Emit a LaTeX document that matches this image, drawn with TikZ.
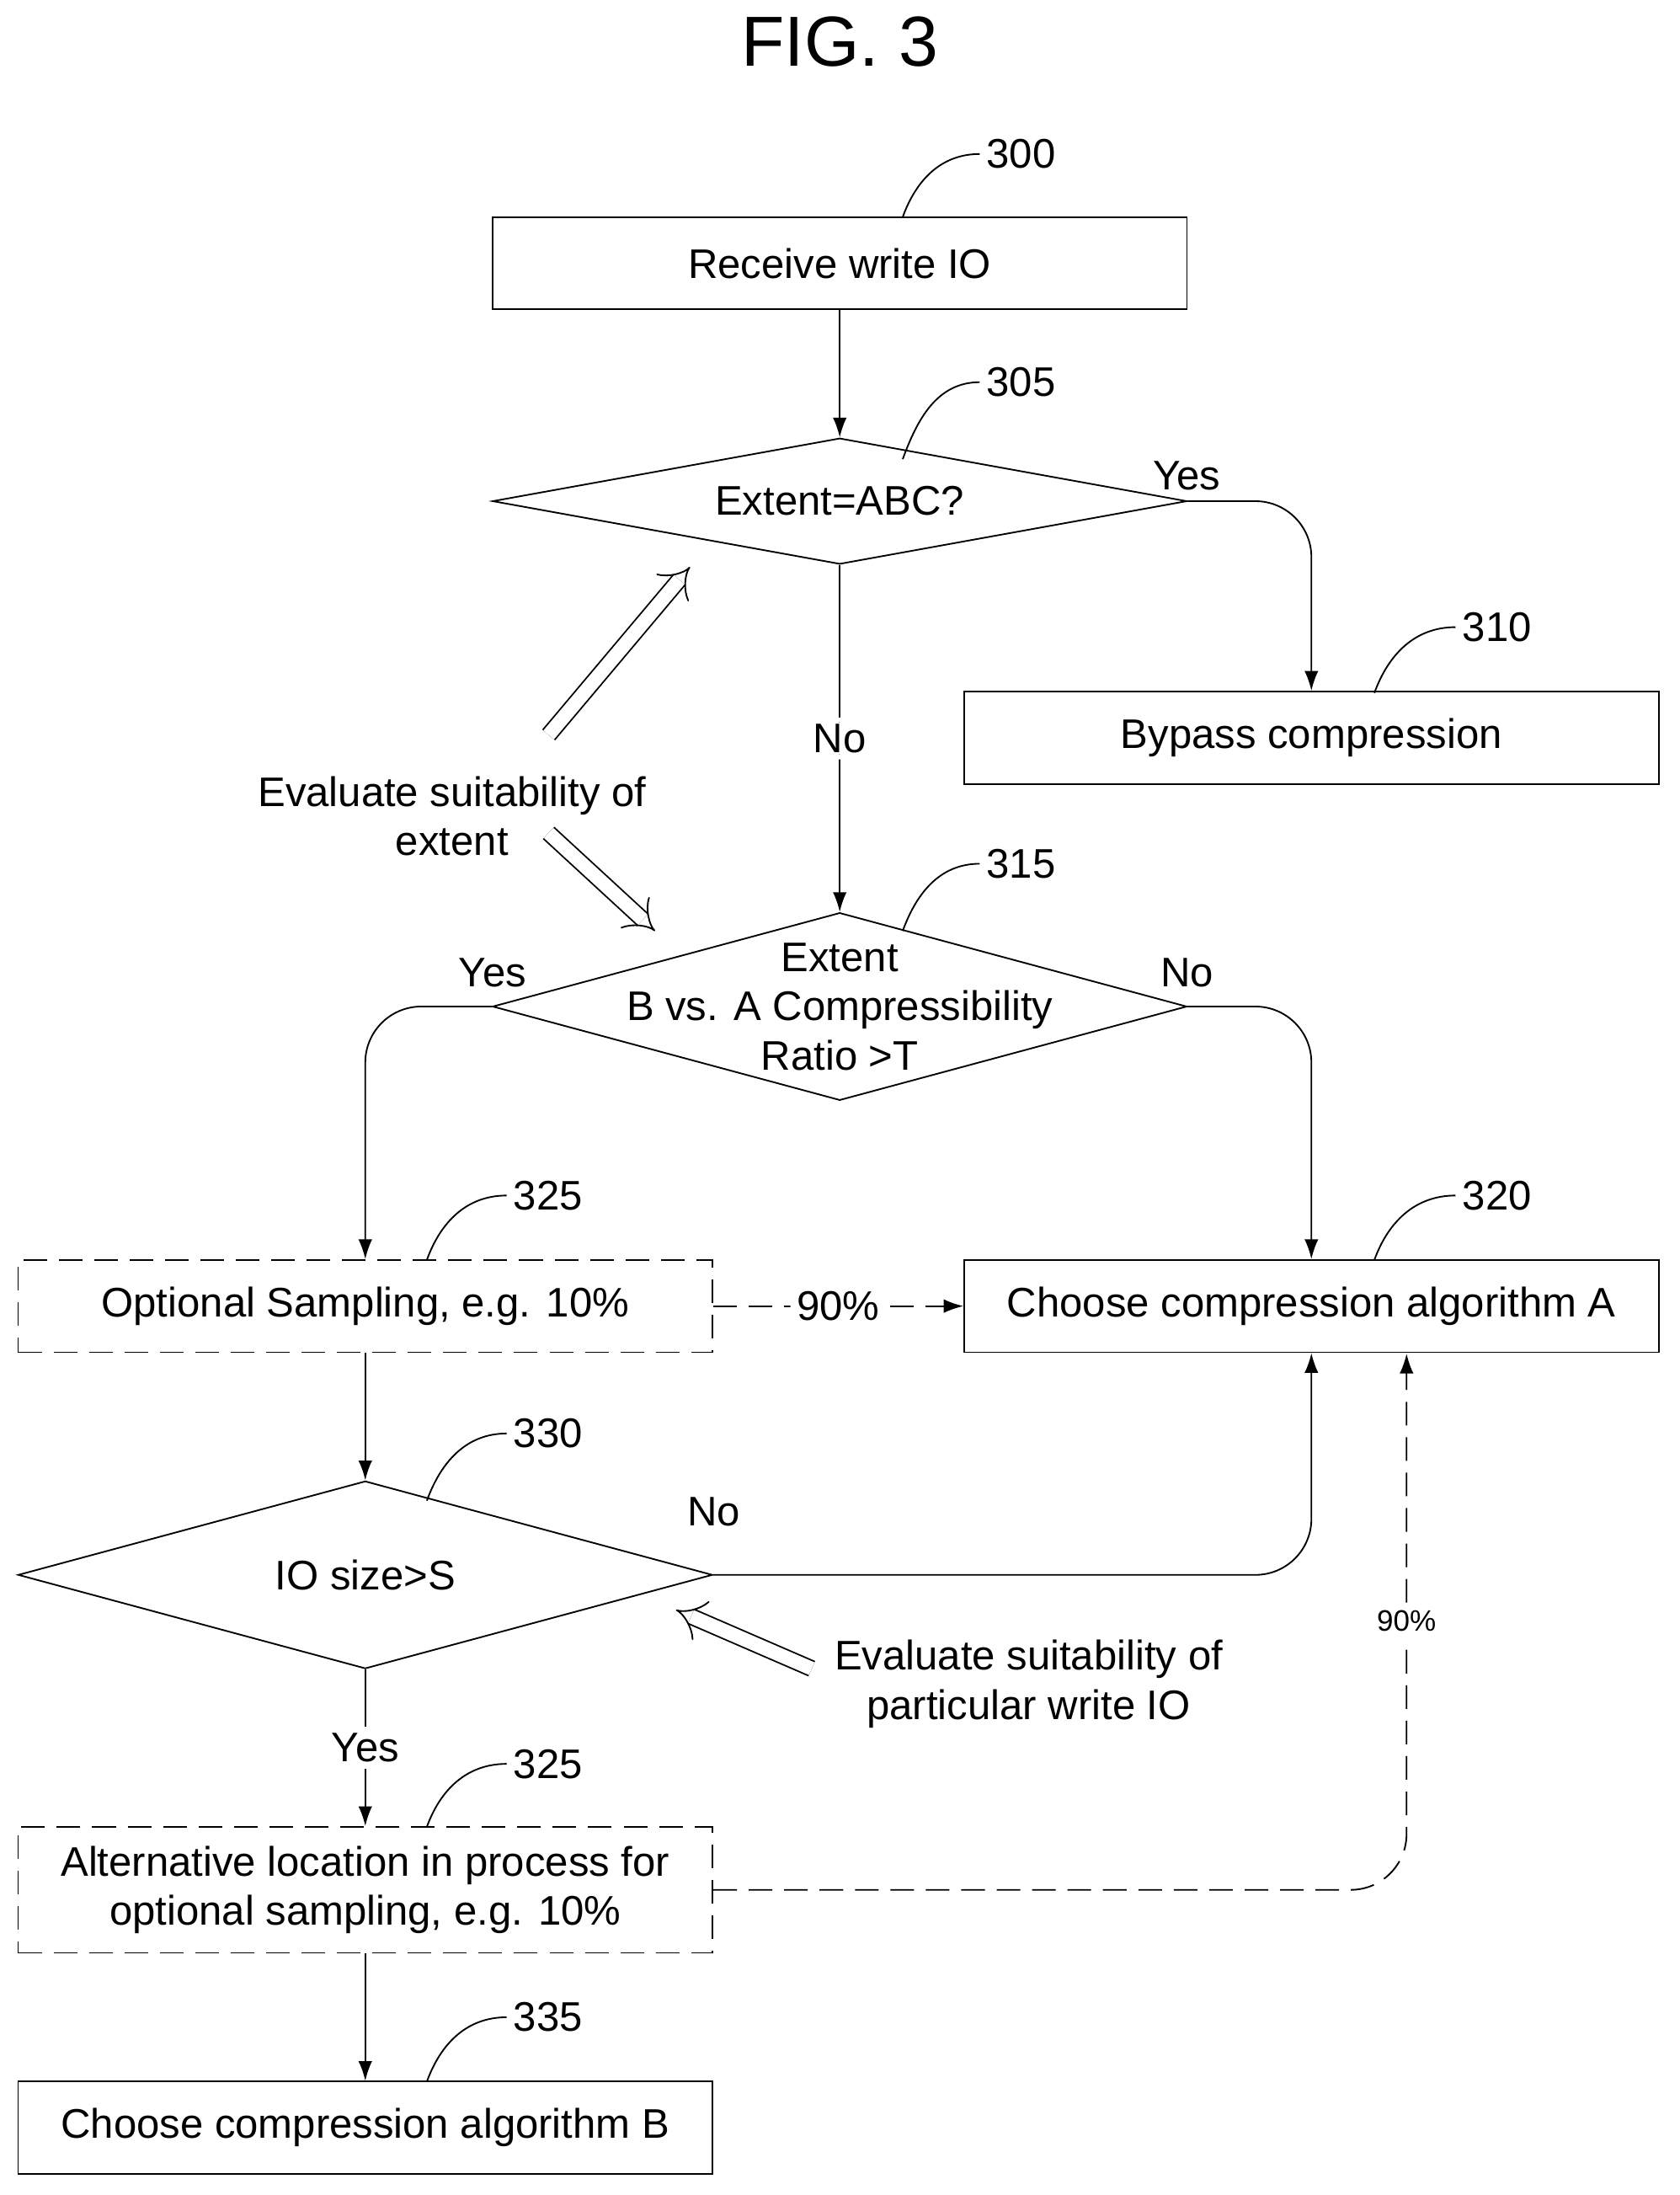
\documentclass[tikz,border=0pt]{standalone}
\usepackage{fontspec}
\setmainfont{Liberation Sans}
\usetikzlibrary{shapes.geometric,arrows.meta,positioning}
\tikzset{
  box/.style={draw,thick,rectangle,minimum width=12.4cm,minimum height=1.65cm,font=\fontsize{21}{25}\selectfont,align=center},
  optbox/.style={box,dashed,dash pattern=on 12pt off 6pt},
  dec/.style={draw,thick,diamond,inner sep=0pt,minimum width=12.4cm},
  dectext/.style={font=\fontsize{21}{25}\selectfont,align=center},
  ref/.style={font=\fontsize{21}{25}\selectfont,anchor=west},
  lbl/.style={font=\fontsize{21}{25}\selectfont},
  flow/.style={thick,-{Latex[length=10pt,width=7pt]},rounded corners=1cm},
  lead/.style={thick},
  hollow/.style={double,double distance=7pt,thick,-{Implies[length=12pt]}}
}
\begin{document}
\begin{tikzpicture}[x=0.025cm,y=-0.025cm]
  \useasboundingbox (0,0) rectangle (1200,1568);
  \node[font=\fontsize{36}{42}\selectfont] (fig) at (600,30) {FIG. 3};
  % boxes and decisions
  \node[box] (b300) at (600,188) {Receive write IO};
  \node[dec,minimum height=2.25cm] (d305) at (600,358) {};
  \node[dectext] (t305) at (d305) {Extent=ABC?};
  \node[box] (b310) at (937,527) {Bypass compression};
  \node[dec,minimum height=3.35cm] (d315) at (600,719) {};
  \node[dectext] (t315) at (d315) {Extent\\B vs. A Compressibility\\Ratio \textgreater T};
  \node[box] (b320) at (937,933) {Choose compression algorithm A};
  \node[optbox] (b325) at (261,933) {Optional Sampling, e.g. 10\%};
  \node[dec,minimum height=3.35cm] (d330) at (261,1125) {};
  \node[dectext] (t330) at (d330) {IO size\textgreater S};
  \node[optbox,minimum height=2.25cm] (b325b) at (261,1350) {Alternative location in process for\\optional sampling, e.g. 10\%};
  \node[box] (b335) at (261,1520) {Choose compression algorithm B};
  % reference numerals
  \node[ref] (l300) at (700,110) {300};
  \node[ref] (l305) at (700,273) {305};
  \node[ref] (l310) at (1040,448) {310};
  \node[ref] (l315) at (700,617) {315};
  \node[ref] (l320) at (1040,854) {320};
  \node[ref] (l325) at (362,854) {325};
  \node[ref] (l330) at (362,1024) {330};
  \node[ref] (l325b) at (362,1260) {325};
  \node[ref] (l335) at (362,1441) {335};
  \draw[lead] (645,155) to[out=70,in=180] (l300.west);
  \draw[lead] (645,328) to[out=70,in=180] (l305.west);
  \draw[lead] (982,495) to[out=70,in=180] (l310.west);
  \draw[lead] (645,665) to[out=70,in=180] (l315.west);
  \draw[lead] (982,900) to[out=70,in=180] (l320.west);
  \draw[lead] (305,900) to[out=70,in=180] (l325.west);
  \draw[lead] (305,1072) to[out=70,in=180] (l330.west);
  \draw[lead] (305,1305) to[out=70,in=180] (l325b.west);
  \draw[lead] (305,1487) to[out=70,in=180] (l335.west);
  % connectors
  \draw[flow] (b300) -- (d305);
  \draw[flow] (d305.east) -| (b310.north);
  \node[lbl] (y305) at (848,340) {Yes};
  \draw[flow] (d305) -- node[lbl,fill=white] (n305) {No} (d315);
  \draw[flow] (d315.west) -| (b325.north);
  \node[lbl] (y315) at (352,695) {Yes};
  \draw[flow] (d315.east) -| (b320.north);
  \node[lbl] (n315) at (848,695) {No};
  \draw[flow,dashed,dash pattern=on 12pt off 6pt] (b325) -- node[lbl,fill=white] (p325) {90\%} (b320);
  \draw[flow] (b325) -- (d330);
  \draw[flow] (d330.east) -| (b320.south);
  \node[lbl] (n330) at (510,1080) {No};
  \draw[flow] (d330) -- node[lbl,fill=white] (y330) {Yes} (b325b);
  \coordinate (c90) at (1005,967);
  \draw[flow,dashed,dash pattern=on 12pt off 6pt] (b325b.east) -| (c90);
  \node[font=\fontsize{15}{18}\selectfont,fill=white] (p325b) at (1005,1158) {90\%};
  \draw[flow] (b325b) -- (b335);
  % annotations
  \node[lbl,align=center] (ev1) at (323,583) {Evaluate suitability of\\extent};
  \node[lbl,align=center] (ev2) at (735,1203) {Evaluate suitability of\\particular write IO};
  \coordinate (h1) at (493,405);
  \coordinate (h2) at (468,665);
  \coordinate (h3) at (483,1150);
  \draw[hollow] (392,525) -- (h1);
  \draw[hollow] (392,595) -- (h2);
  \draw[hollow] (580,1192) -- (h3);
\end{tikzpicture}
\end{document}
